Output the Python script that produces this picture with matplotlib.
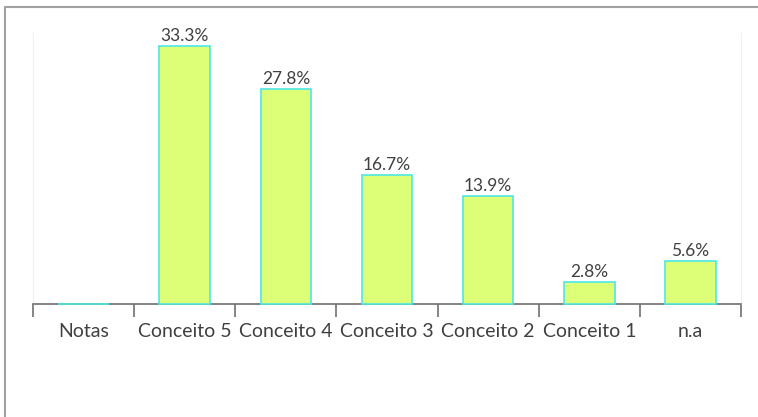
import matplotlib.pyplot as plt
from matplotlib.lines import Line2D

categorias = ["Notas", "Conceito 5", "Conceito 4", "Conceito 3", "Conceito 2", "Conceito 1", "n.a"]
valores = [0, 33.3, 27.8, 16.7, 13.9, 2.8, 5.6]
rotulos = ["", "33.3%", "27.8%", "16.7%", "13.9%", "2.8%", "5.6%"]

plt.rcParams['font.family'] = ['Lato', 'DejaVu Sans']

fig = plt.figure(figsize=(7.58, 4.17), dpi=100)
ax = fig.add_axes([33 / 758, 1 - 304 / 417, 708 / 758, 271 / 417])

x = range(len(categorias))
ax.bar(x, valores, width=0.5, color="#ddff77", edgecolor="#4ee6e6", linewidth=1.2,
       zorder=3, clip_on=False)

for i, (v, r) in enumerate(zip(valores, rotulos)):
    if r:
        ax.text(i, v + 0.25, r, ha="center", va="bottom", fontsize=12.5, color="#404040")

ax.set_xlim(-0.5, len(categorias) - 0.5)
ax.set_ylim(0, 35)
ax.set_yticks([])
ax.set_xticks(x)
ax.set_xticklabels(categorias, fontsize=14, color="#404040")
ax.set_xticks([i - 0.5 for i in range(len(categorias) + 1)], minor=True)
ax.tick_params(axis="x", which="major", length=0, pad=14)
ax.tick_params(axis="x", which="minor", length=9, width=1.2, color="#707070", direction="out")

ax.spines["top"].set_visible(False)
ax.spines["bottom"].set_color("#707070")
ax.spines["bottom"].set_linewidth(1.2)
for s in ("left", "right"):
    ax.spines[s].set_color("#f0f0f0")
    ax.spines[s].set_linewidth(0.8)

# moldura cinza
fig.add_artist(Line2D([5 / 758, 5 / 758, 1], [0, 1 - 7 / 417, 1 - 7 / 417],
                      transform=fig.transFigure, color="#a0a0a0", linewidth=1.5))

fig.savefig("out.png", dpi=100)
